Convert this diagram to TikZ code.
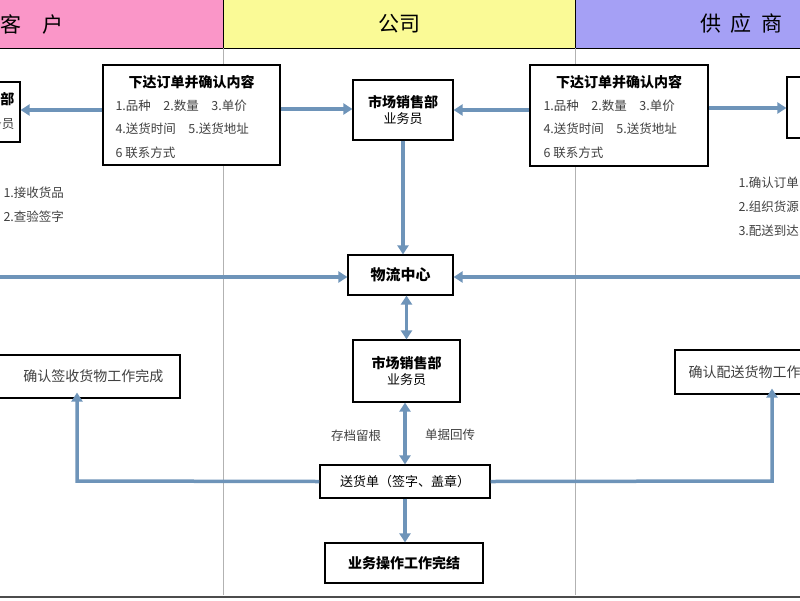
\documentclass[tikz,border=0pt]{standalone}
\usepackage{fontspec}
\setmainfont{Noto Sans CJK SC}
\usetikzlibrary{arrows.meta}
\begin{document}
\begin{tikzpicture}[x=1pt,y=-1pt,
  box/.style={draw=black,line width=1.2pt,fill=white,inner sep=0pt},
  arr/.style={draw={rgb,255:red,110;green,148;blue,185},line width=3.5pt,-{Triangle[length=9pt,width=11pt]}},
  darr/.style={arr,{Triangle[length=9pt,width=11pt]}-{Triangle[length=9pt,width=11pt]}},
  txt/.style={font=\fontsize{12.5}{14}\selectfont,text=black!75},
  btxt/.style={font=\fontsize{14}{16}\selectfont\bfseries}]
\useasboundingbox (0,0) rectangle (800,600);
\clip (0,0) rectangle (800,600);
\fill[fill={rgb,255:red,250;green,150;blue,200}] (0,0) rectangle (223,48);
\fill[fill={rgb,255:red,250;green,250;blue,150}] (223,0) rectangle (575,48);
\fill[fill={rgb,255:red,165;green,160;blue,245}] (575,0) rectangle (800,48);
\draw[line width=1pt] (0,48) -- (800,48);
\draw[line width=1pt] (223,0) -- (223,48) (575,0) -- (575,48);
\draw[black!30] (223,48) -- (223,595) (575,48) -- (575,595);
\draw[black!70,line width=1.5pt] (0,597) -- (800,597);
\node[font=\fontsize{21}{23}\selectfont] (h1) at (32,24) {客\quad 户};
\node[font=\fontsize{21}{23}\selectfont] (h2) at (399,24) {公司};
\node[font=\fontsize{21}{23}\selectfont,anchor=west] (h3) at (697,24) {供\ \ 应\ \ 商};
% boxes
\node[box,minimum width=80pt,minimum height=60pt] (cb) at (-20,112) {};
\node[btxt,anchor=east] (cbt1) at (18,99) {采购部};
\node[txt,anchor=east] (cbt2) at (18,124) {业务员};
\node[box,minimum width=177pt,minimum height=100pt] (o1) at (191.5,115) {};
\node[btxt] (o1t) at (191.5,82) {下达订单并确认内容};
\node[txt,anchor=west] (o1a) at (112,106) {1.品种\quad 2.数量\quad 3.单价};
\node[txt,anchor=west] (o1b) at (112,129) {4.送货时间\quad 5.送货地址};
\node[txt,anchor=west] (o1c) at (112,153) {6 联系方式};
\node[box,minimum width=100pt,minimum height=60pt,align=center] (m1) at (403,110) {{\fontsize{14}{16}\selectfont\bfseries 市场销售部}\\[3pt]{\fontsize{13}{15}\selectfont 业务员}};
\node[box,minimum width=178pt,minimum height=101pt] (o2) at (619,115.5) {};
\node[btxt] (o2t) at (619,82) {下达订单并确认内容};
\node[txt,anchor=west] (o2a) at (540,106) {1.品种\quad 2.数量\quad 3.单价};
\node[txt,anchor=west] (o2b) at (540,129) {4.送货时间\quad 5.送货地址};
\node[txt,anchor=west] (o2c) at (540,153) {6 联系方式};
\node[box,minimum width=80pt,minimum height=61pt] (sb) at (827,107.5) {};
\node[txt,anchor=west] (l1) at (0,193) {1.接收货品};
\node[txt,anchor=west] (l2) at (0,217) {2.查验签字};
\node[txt,anchor=west] (r1) at (735,183) {1.确认订单};
\node[txt,anchor=west] (r2) at (735,207) {2.组织货源};
\node[txt,anchor=west] (r3) at (735,231) {3.配送到达};
\node[box,minimum width=105pt,minimum height=40pt,font=\fontsize{15}{17}\selectfont\bfseries] (lc) at (400.5,275) {物流中心};
\node[box,minimum width=107pt,minimum height=62pt,align=center] (m2) at (406.5,371) {{\fontsize{14}{16}\selectfont\bfseries 市场销售部}\\[3pt]{\fontsize{13}{15}\selectfont 业务员}};
\node[box,minimum width=200pt,minimum height=43pt] (cl) at (80,376.5) {};
\node[txt,anchor=east,font=\fontsize{14}{16}\selectfont] (clt) at (167,376.5) {确认签收货物工作完成};
\node[box,minimum width=200pt,minimum height=44pt] (cr) at (775,372) {};
\node[txt,anchor=west,font=\fontsize{14}{16}\selectfont] (crt) at (685,372) {确认配送货物工作完成};
\node[box,minimum width=170pt,minimum height=33pt,font=\fontsize{13}{15}\selectfont] (sd) at (405,481.5) {送货单（签字、盖章）};
\node[box,minimum width=158pt,minimum height=40pt,font=\fontsize{14}{16}\selectfont\bfseries] (fn) at (404,563) {业务操作工作完结};
\node[txt] (k1) at (356,436) {存档留根};
\node[txt] (k2) at (450,435) {单据回传};
% arrows
\coordinate (lin) at (-5,277);
\coordinate (rin) at (805,277);
\coordinate (lc1) at (77,481);
\coordinate (rc1) at (772,481);
\draw[arr] (o1.west|-0,110) -- (cb.east|-0,110);
\draw[arr] (o1.east|-0,109) -- (m1.west|-0,109);
\draw[arr] (o2.west|-0,110) -- (m1.east|-0,110);
\draw[arr] (o2.east|-0,108) -- (sb.west|-0,108);
\draw[arr] (m1.south) -- (lc.north-|m1.south);
\draw[arr] (lin) -- (lc.west|-lin);
\draw[arr] (rin) -- (lc.east|-rin);
\draw[darr] (lc.south-|m2.north) -- (m2.north);
\draw[darr] (m2.south-|sd.north) -- (sd.north);
\draw[arr] (sd.west) -- (lc1) -- ([yshift=6pt]lc1|-cl.south);
\draw[arr] (sd.east) -- (rc1) -- ([yshift=6pt]rc1|-cr.south);
\draw[arr] (sd.south) -- (fn.north-|sd.south);
\end{tikzpicture}
\end{document}
